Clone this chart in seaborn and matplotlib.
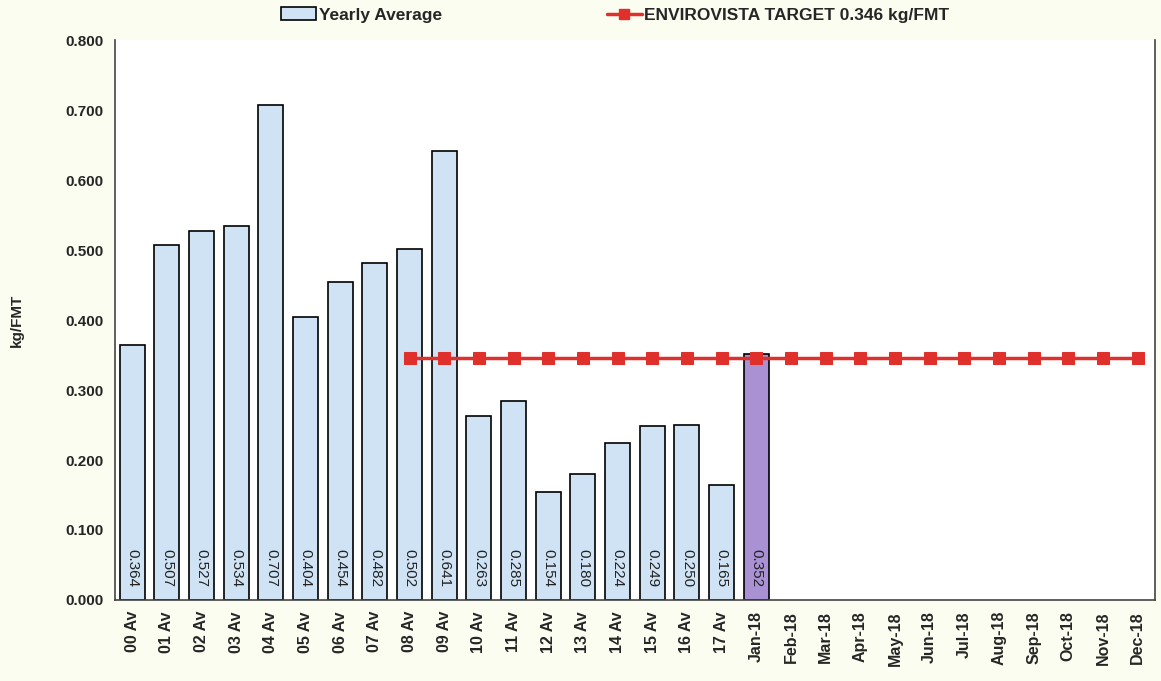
import numpy as np
import pandas as pd
import matplotlib
matplotlib.use("Agg")
import matplotlib.pyplot as plt
import seaborn as sns
from matplotlib.patches import Patch
from matplotlib.lines import Line2D

# === Data ===
categories = ["00 Av", "01 Av", "02 Av", "03 Av", "04 Av", "05 Av", "06 Av", "07 Av",
              "08 Av", "09 Av", "10 Av", "11 Av", "12 Av", "13 Av", "14 Av", "15 Av",
              "16 Av", "17 Av", "Jan-18", "Feb-18", "Mar-18", "Apr-18", "May-18",
              "Jun-18", "Jul-18", "Aug-18", "Sep-18", "Oct-18", "Nov-18", "Dec-18"]
values = [0.364, 0.507, 0.527, 0.534, 0.707, 0.404, 0.454, 0.482,
          0.502, 0.641, 0.263, 0.285, 0.154, 0.180, 0.224, 0.249,
          0.250, 0.165, 0.352] + [np.nan] * 11
target_value = 0.346
target_start = "08 Av"

# === Style ===
sns.set_style("white")
plt.rcParams['font.family'] = ['Liberation Sans', 'DejaVu Sans']

blue = "#cfe3f5"
purple = "#a991d4"
red = "#e0302c"
colors = [purple if c.startswith("Jan") else blue for c in categories]

df = pd.DataFrame({"category": categories, "value": values})

fig = plt.figure(figsize=(11.61, 6.81), dpi=100, facecolor="#fcfdf1")
ax = fig.add_axes([0.0990, 0.119, 0.8958, 0.822])
ax.set_facecolor("white")

sns.barplot(data=df, x="category", y="value", hue="category", palette=colors,
            order=categories, hue_order=categories, legend=False, width=0.72,
            edgecolor="black", linewidth=1.2, saturation=1, ax=ax)

# target line from 08 Av to Dec-18
start = categories.index(target_start)
tx = np.arange(start, len(categories))
ty = np.full(len(tx), target_value)
sns.lineplot(x=tx, y=ty, color=red, linewidth=2.5, marker="s", markersize=9,
             markeredgecolor=red, ax=ax)

# value labels inside bars
for i, v in enumerate(values):
    if not np.isnan(v):
        ax.text(i, 0.046, f"{v:.3f}", rotation=270, ha="center", va="center",
                fontsize=11, color="#222222")

ax.set_xlim(-0.5, len(categories) - 0.5)
ax.set_ylim(0, 0.8)
yt = np.arange(0, 0.801, 0.1)
ax.set_yticks(yt)
ax.set_yticklabels([f"{t:.3f}" for t in yt], fontsize=11, fontweight="bold")

# labels at bar centres, tick marks at category boundaries
ax.set_xticks(np.arange(len(categories)))
ax.set_xticklabels(categories, rotation=90, fontsize=11.5, fontweight="bold")
ax.set_xticks(np.arange(-0.5, len(categories) + 0.5, 1), minor=True)
ax.tick_params(axis="x", which="major", length=0, pad=8)
ax.tick_params(axis="x", which="minor", length=4, direction="out", color="#555555")
ax.tick_params(axis="y", length=4, direction="out", color="#555555", pad=4)
ax.set_xlabel("")
ax.set_ylabel("kg/FMT", fontsize=11, fontweight="bold", labelpad=30)

for side in ["left", "bottom", "right"]:
    ax.spines[side].set_visible(True)
    ax.spines[side].set_color("#444444")
    ax.spines[side].set_linewidth(1.2)
ax.spines["top"].set_visible(False)

handles = [Patch(facecolor=blue, edgecolor="black", linewidth=1.2),
           Line2D([0], [0], color=red, linewidth=2.5, marker="s", markersize=7)]
labels = ["Yearly Average", "ENVIROVISTA TARGET 0.346 kg/FMT"]
fig.legend(handles, labels, loc="upper center", bbox_to_anchor=(0.53, 1.012), ncol=2,
           frameon=False, columnspacing=9.5, handlelength=2.0, handletextpad=0.15,
           prop={"weight": "bold", "size": 12.5})

fig.savefig("out.png", dpi=100, facecolor=fig.get_facecolor())
